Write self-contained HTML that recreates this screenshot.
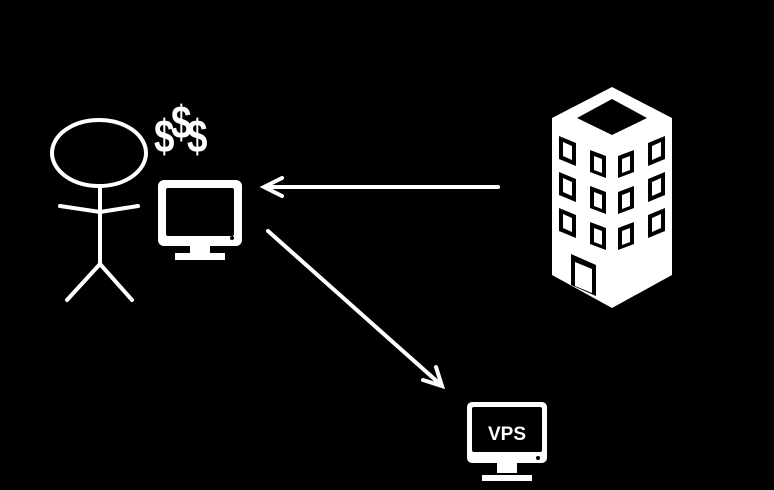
<!DOCTYPE html>
<html><head><style>html,body{margin:0;padding:0;background:#000;width:774px;height:490px;overflow:hidden}</style></head>
<body>
<svg width="774" height="490" viewBox="0 0 774 490" xmlns="http://www.w3.org/2000/svg">
<rect width="774" height="490" fill="#000"/>
<g stroke="#fff" stroke-width="4" fill="none" stroke-linecap="round">
<ellipse cx="99" cy="153" rx="47" ry="33"/>
<line x1="100" y1="187" x2="100" y2="264"/>
<polyline points="60,206 100,212 138,206"/>
<line x1="100" y1="264" x2="67" y2="300"/>
<line x1="100" y1="264" x2="132" y2="300"/>
</g>
<g fill="#fff" font-family="Liberation Sans, sans-serif" font-weight="bold" font-size="46">
<text transform="translate(154,152) scale(0.8,1)">$</text>
<text transform="translate(171,138) scale(0.8,1)">$</text>
<text transform="translate(187,152) scale(0.8,1)">$</text>
</g>
<rect x="158" y="180" width="84" height="66" rx="6" fill="#fff"/>
<rect x="166" y="188" width="68" height="48" rx="2" fill="#000"/>
<circle cx="232" cy="238" r="2" fill="#000"/>
<rect x="190" y="246" width="20" height="7" fill="#fff"/>
<rect x="175" y="253" width="50" height="7" fill="#fff"/>
<g stroke="#fff" stroke-width="4" fill="none" stroke-linecap="round">
<line x1="498" y1="187" x2="266" y2="187"/>
<polyline points="282,178 264,187 282,196"/>
<line x1="268" y1="231" x2="440" y2="384"/>
<polyline points="423,380 442,386 436,367"/>
</g>
<polygon points="612,87 672,118 672,275 612,308 552,275 552,118" fill="#fff"/>
<polygon points="612,99 647,118 612,135 577,118" fill="#000"/>
<g fill="#000">
<polygon points="559,136 576,143 576,166 559,159"/><polygon points="563,142 572,146 572,160 563,156" fill="#fff"/>
<polygon points="559,172 576,179 576,202 559,195"/><polygon points="563,178 572,182 572,196 563,192" fill="#fff"/>
<polygon points="559,208 576,215 576,238 559,231"/><polygon points="563,214 572,218 572,232 563,228" fill="#fff"/>
<polygon points="590,150 606,156 606,178 590,172"/><polygon points="594,156 602,159 602,173 594,170" fill="#fff"/>
<polygon points="590,186 606,192 606,214 590,208"/><polygon points="594,192 602,195 602,209 594,206" fill="#fff"/>
<polygon points="590,222 606,228 606,250 590,244"/><polygon points="594,228 602,231 602,245 594,242" fill="#fff"/>
<polygon points="618,156 634,150 634,172 618,178"/><polygon points="622,159 630,156 630,170 622,173" fill="#fff"/>
<polygon points="618,192 634,186 634,208 618,214"/><polygon points="622,195 630,192 630,206 622,209" fill="#fff"/>
<polygon points="618,228 634,222 634,244 618,250"/><polygon points="622,231 630,228 630,242 622,245" fill="#fff"/>
<polygon points="648,143 665,136 665,159 648,166"/><polygon points="652,146 661,142 661,156 652,160" fill="#fff"/>
<polygon points="648,179 665,172 665,195 648,202"/><polygon points="652,182 661,178 661,192 652,196" fill="#fff"/>
<polygon points="648,215 665,208 665,231 648,238"/><polygon points="652,218 661,214 661,228 652,232" fill="#fff"/>
<polygon points="571,254 596,265 596,296 571,285"/><polygon points="575,262 592,269 592,293 575,286" fill="#fff"/>
</g>
<rect x="467" y="402" width="80" height="61" rx="5" fill="#fff"/>
<rect x="472" y="407" width="70" height="45" rx="2" fill="#000"/>
<circle cx="538" cy="458" r="2" fill="#000"/>
<rect x="497" y="463" width="20" height="10" fill="#fff"/>
<rect x="482" y="475" width="50" height="6" fill="#fff"/>
<text x="507" y="440" fill="#fff" font-family="Liberation Sans, sans-serif" font-weight="bold" font-size="19" text-anchor="middle">VPS</text>
</svg>
</body></html>
